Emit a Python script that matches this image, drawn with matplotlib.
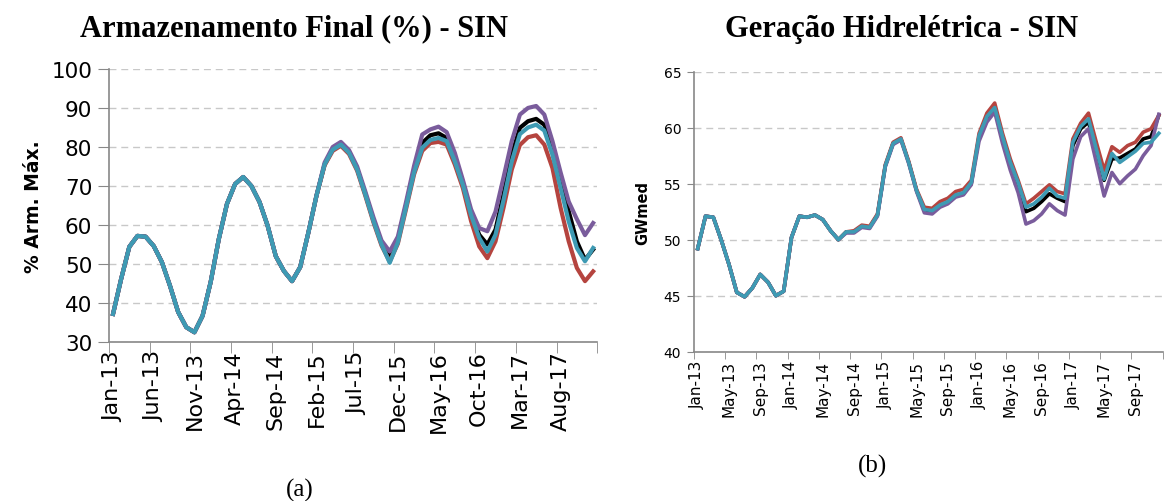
import numpy as np
import matplotlib
matplotlib.use('Agg')
import matplotlib.pyplot as plt

# monthly values, Jan-13 .. Dec-17
arm_cyan = [37.2, 46.2, 54.4, 57.2, 57.0, 54.6, 50.5, 44.4, 37.7, 33.8, 32.5, 36.7,
            45.4, 56.4, 65.4, 70.5, 72.3, 70.0, 65.9, 59.8, 52.0, 48.2, 45.6, 49.2,
            58.0, 67.5, 75.5, 79.3, 80.6, 78.5, 74.2, 67.8, 61.0, 55.0, 50.3, 55.5,
            64.5, 73.5, 79.8, 81.8, 82.3, 81.5, 76.3, 70.2, 62.5, 56.7, 53.2, 57.5,
            66.5, 76.3, 83.3, 85.0, 85.7, 84.2, 78.0, 69.5, 60.9, 54.1, 50.7, 54.1]
arm_black = [37.2, 46.2, 54.4, 57.2, 57.0, 54.6, 50.5, 44.4, 37.7, 33.8, 32.5, 36.7,
             45.4, 56.4, 65.4, 70.5, 72.3, 70.0, 65.9, 59.8, 52.0, 48.2, 45.6, 49.2,
             58.0, 67.5, 75.5, 79.4, 80.8, 78.7, 74.4, 68.0, 61.3, 55.3, 51.5, 56.2,
             65.0, 74.2, 81.0, 83.0, 83.5, 82.3, 77.0, 70.8, 63.2, 57.5, 55.0, 58.8,
             68.0, 78.0, 84.9, 86.6, 87.2, 85.7, 79.7, 72.1, 63.5, 55.8, 51.1, 53.7]
arm_red = [37.2, 46.2, 54.4, 57.2, 57.0, 54.6, 50.5, 44.4, 37.7, 33.8, 32.5, 36.7,
           45.4, 56.4, 65.4, 70.5, 72.3, 70.0, 65.9, 59.8, 52.0, 48.2, 45.6, 49.2,
           58.0, 67.5, 75.3, 79.0, 80.3, 78.2, 73.9, 67.5, 60.7, 54.7, 50.6, 55.2,
           64.0, 73.0, 79.0, 81.0, 81.3, 80.6, 75.5, 69.4, 61.0, 54.5, 51.5, 55.8,
           64.5, 74.2, 80.5, 82.5, 83.0, 80.6, 74.6, 64.4, 55.8, 49.0, 45.6, 48.1]
arm_purple = [37.2, 46.2, 54.4, 57.2, 57.0, 54.6, 50.5, 44.4, 37.7, 33.8, 32.5, 36.7,
              45.4, 56.4, 65.4, 70.5, 72.3, 70.0, 65.9, 59.8, 52.0, 48.2, 45.6, 49.2,
              58.0, 67.5, 76.0, 80.0, 81.3, 79.2, 75.0, 68.6, 62.0, 56.0, 53.2, 57.0,
              65.8, 75.2, 83.2, 84.5, 85.2, 83.8, 78.5, 71.5, 64.0, 59.2, 58.4, 63.4,
              72.3, 81.5, 88.3, 90.0, 90.5, 88.3, 81.5, 73.5, 66.0, 61.5, 57.4, 60.5]

ger_cyan = [49.2, 52.1, 52.0, 50.0, 47.8, 45.3, 44.9, 45.7, 46.9, 46.2, 45.0, 45.4,
            50.2, 52.1, 52.0, 52.2, 51.8, 50.8, 50.0, 50.7, 50.7, 51.2, 51.1, 52.2,
            56.6, 58.6, 59.0, 56.9, 54.4, 52.7, 52.6, 53.1, 53.4, 54.0, 54.2, 55.1,
            59.3, 61.0, 61.8, 59.2, 56.9, 55.1, 52.9, 53.2, 53.8, 54.6, 53.9, 53.7,
            58.7, 60.1, 60.8, 58.1, 55.4, 57.7, 56.9, 57.4, 57.9, 58.6, 58.7, 59.5]
ger_black = [49.2, 52.1, 52.0, 50.0, 47.8, 45.3, 44.9, 45.7, 46.9, 46.2, 45.0, 45.4,
             50.2, 52.1, 52.0, 52.2, 51.8, 50.8, 50.0, 50.7, 50.7, 51.2, 51.1, 52.2,
             56.6, 58.6, 59.0, 56.9, 54.4, 52.6, 52.5, 53.0, 53.3, 53.9, 54.1, 55.0,
             59.2, 60.9, 61.7, 59.2, 56.8, 54.9, 52.5, 52.8, 53.4, 54.1, 53.7, 53.4,
             58.4, 59.9, 60.5, 58.0, 55.3, 57.2, 57.3, 57.7, 58.1, 59.0, 59.2, 61.1]
ger_red = [49.2, 52.1, 52.0, 50.0, 47.8, 45.3, 44.9, 45.7, 46.9, 46.2, 45.0, 45.4,
           50.2, 52.1, 52.0, 52.2, 51.8, 50.8, 50.0, 50.7, 50.8, 51.3, 51.2, 52.3,
           56.7, 58.7, 59.1, 57.0, 54.5, 52.9, 52.8, 53.4, 53.7, 54.3, 54.5, 55.3,
           59.5, 61.3, 62.2, 59.5, 57.2, 55.3, 53.2, 53.7, 54.3, 54.9, 54.3, 54.1,
           59.0, 60.4, 61.3, 58.7, 56.2, 58.3, 57.8, 58.4, 58.7, 59.6, 59.9, 61.1]
ger_purple = [49.2, 52.1, 52.0, 50.0, 47.8, 45.3, 44.9, 45.7, 46.9, 46.2, 45.0, 45.4,
              50.2, 52.1, 52.0, 52.2, 51.8, 50.8, 50.0, 50.6, 50.6, 51.1, 51.0, 52.1,
              56.5, 58.5, 58.9, 56.8, 54.3, 52.4, 52.3, 52.9, 53.2, 53.8, 54.0, 54.9,
              58.8, 60.5, 61.4, 58.6, 56.2, 54.2, 51.4, 51.7, 52.3, 53.2, 52.6, 52.2,
              57.2, 59.2, 59.9, 56.9, 53.9, 56.0, 55.0, 55.7, 56.3, 57.5, 58.4, 61.2]

arm_labels = ['Jan-13', 'Jun-13', 'Nov-13', 'Apr-14', 'Sep-14', 'Feb-15',
              'Jul-15', 'Dec-15', 'May-16', 'Oct-16', 'Mar-17', 'Aug-17']
ger_labels = ['Jan-13', 'May-13', 'Sep-13', 'Jan-14', 'May-14', 'Sep-14',
              'Jan-15', 'May-15', 'Sep-15', 'Jan-16', 'May-16', 'Sep-16',
              'Jan-17', 'May-17', 'Sep-17']

colors = {'black': '#000000', 'red': '#B5443F', 'purple': '#7A5C9C', 'cyan': '#3E9AB3'}


def style_axis(ax, n, step, labels, ylim, yticks, xtick_fs, ytick_fs, tick_len):
    ax.set_xlim(-0.5, n - 0.5)
    ax.set_ylim(*ylim)
    ax.set_yticks(yticks)
    # labels centred on the category, tick marks between categories
    ax.set_xticks(np.arange(0, n, step))
    ax.set_xticklabels(labels, rotation=90, fontsize=xtick_fs)
    ax.tick_params(axis='x', which='major', length=0, pad=6)
    ax.set_xticks(np.arange(-0.5, n, step), minor=True)
    ax.tick_params(axis='x', which='minor', length=tick_len, color='#888888', direction='out')
    ax.tick_params(axis='y', length=tick_len, color='#888888', labelsize=ytick_fs, pad=4)
    ax.grid(axis='y', color='#C8C8C8', linestyle=(0, (5, 3.5)), linewidth=1.0)
    ax.set_axisbelow(True)
    for s in ['top', 'right']:
        ax.spines[s].set_visible(False)
    for s in ['left', 'bottom']:
        ax.spines[s].set_color('#888888')
        ax.spines[s].set_linewidth(1.2)


fig = plt.figure(figsize=(11.68, 5.02), dpi=100)

# (a) reservoir storage
ax1 = fig.add_axes([0.0933, 0.3167, 0.418, 0.544])
x = np.arange(len(arm_cyan))
for ys, c in [(arm_black, 'black'), (arm_red, 'red'), (arm_purple, 'purple'), (arm_cyan, 'cyan')]:
    ax1.plot(x, ys, color=colors[c], linewidth=3.0, solid_joinstyle='round')
style_axis(ax1, len(x), 5, arm_labels, (30, 100), range(30, 101, 10), 16, 15.5, 8)
ax1.set_ylabel('% Arm. Máx.', fontsize=13.5, fontweight='bold', labelpad=6)
ax1.set_title('Armazenamento Final (%) - SIN', family='Liberation Serif',
              fontsize=22, fontweight='bold', pad=24, x=0.379)
fig.text(0.257, 0.01, '(a)', family='Liberation Serif', fontsize=18, ha='center')

# (b) hydro generation
ax2 = fig.add_axes([0.594, 0.2974, 0.4015, 0.5578])
x = np.arange(len(ger_cyan))
for ys, c in [(ger_black, 'black'), (ger_red, 'red'), (ger_purple, 'purple'), (ger_cyan, 'cyan')]:
    ax2.plot(x, ys, color=colors[c], linewidth=2.6, solid_joinstyle='round')
style_axis(ax2, len(x), 4, ger_labels, (40, 65), range(40, 66, 5), 11, 10, 5)
ax2.set_ylabel('GWmed', fontsize=10.5, fontweight='bold', labelpad=10)
ax2.set_title('Geração Hidrelétrica - SIN', family='Liberation Serif',
              fontsize=22, fontweight='bold', pad=26, x=0.443)
fig.text(0.747, 0.058, '(b)', family='Liberation Serif', fontsize=18, ha='center')

fig.savefig('out.png', dpi=100)
